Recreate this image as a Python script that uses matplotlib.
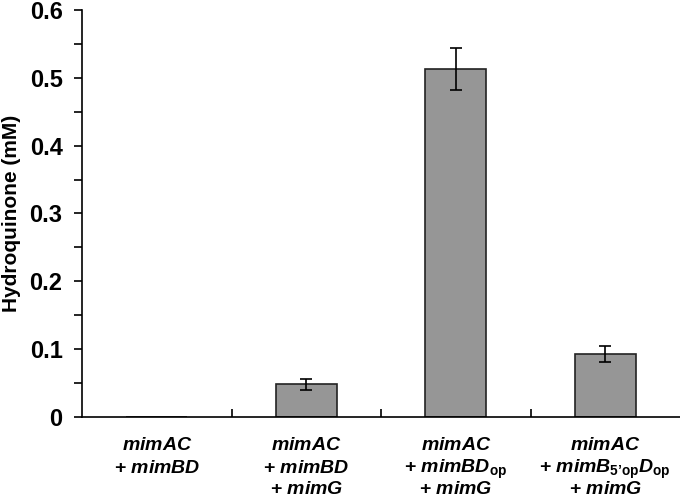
import matplotlib
matplotlib.use("Agg")
import matplotlib.pyplot as plt
from matplotlib.ticker import MultipleLocator, FuncFormatter, FixedLocator
import numpy as np

plt.rcParams['font.family'] = ['Liberation Sans', 'DejaVu Sans']
plt.rcParams['font.weight'] = 'bold'
plt.rcParams['mathtext.fontset'] = 'custom'
plt.rcParams['mathtext.rm'] = 'Liberation Sans:bold'
plt.rcParams['mathtext.it'] = 'Liberation Sans:bold:italic'
plt.rcParams['mathtext.bf'] = 'Liberation Sans:bold'

categories = [
    ["$mimAC$", "+ $mimBD$"],
    ["$mimAC$", "+ $mimBD$", "+ $mimG$"],
    ["$mimAC$", "+ $mimBD_{\\rm op}$", "+ $mimG$"],
    ["$mimAC$", "+ $mimB_{\\rm 5\u2019op}D_{\\rm op}$", "+ $mimG$"],
]
values = [0.0, 0.048, 0.513, 0.093]
errors = [0.0, 0.008, 0.031, 0.012]
y_ticks = [0, 0.1, 0.2, 0.3, 0.4, 0.5, 0.6]

fig = plt.figure(figsize=(6.8, 4.99), dpi=100)
ax = fig.add_axes([0.1206, 0.1643, 0.8794, 0.8157])

x = np.arange(len(categories))
ax.bar(x, values, width=0.41, color='#969696', edgecolor='#222222', linewidth=1.2, zorder=2)
vals = np.array(values); errs = np.array(errors)
m = errs > 0
ax.errorbar(x[m], vals[m], yerr=errs[m], fmt='none', ecolor='black',
            elinewidth=1.2, capsize=4, capthick=1.2, zorder=3)

ax.set_xlim(-0.5, len(categories) - 0.5)
ax.set_ylim(0, 0.6)
ax.yaxis.set_major_locator(FixedLocator(y_ticks))
ax.yaxis.set_minor_locator(MultipleLocator(0.05))
ax.yaxis.set_major_formatter(FuncFormatter(lambda v, p: '%g' % v))
ax.tick_params(axis='y', which='major', direction='out', length=6, width=1.2,
               labelsize=17, pad=8)
ax.tick_params(axis='y', which='minor', direction='out', length=6, width=1.2)

ax.set_xticks(x)
ax.set_xticklabels([])
ax.tick_params(axis='x', which='major', length=0)
ax.xaxis.set_minor_locator(FixedLocator(np.arange(len(categories) - 1) + 0.5))
ax.tick_params(axis='x', which='minor', direction='in', length=6, width=1.2)

line_offsets_pt = [24.0, 40.0, 55.5]
for xi, lines in zip(x, categories):
    for off, line in zip(line_offsets_pt, lines):
        ax.annotate(line, xy=(xi, 0), xycoords=('data', 'axes fraction'),
                    xytext=(0, -off), textcoords='offset points',
                    ha='center', va='baseline', fontsize=14, fontweight='bold',
                    annotation_clip=False)

for s in ['top', 'right']:
    ax.spines[s].set_visible(False)
for s in ['left', 'bottom']:
    ax.spines[s].set_linewidth(1.2)

ax.set_ylabel('Hydroquinone (mM)', fontsize=15, fontweight='bold', labelpad=6)

fig.savefig('out.png', dpi=100)
